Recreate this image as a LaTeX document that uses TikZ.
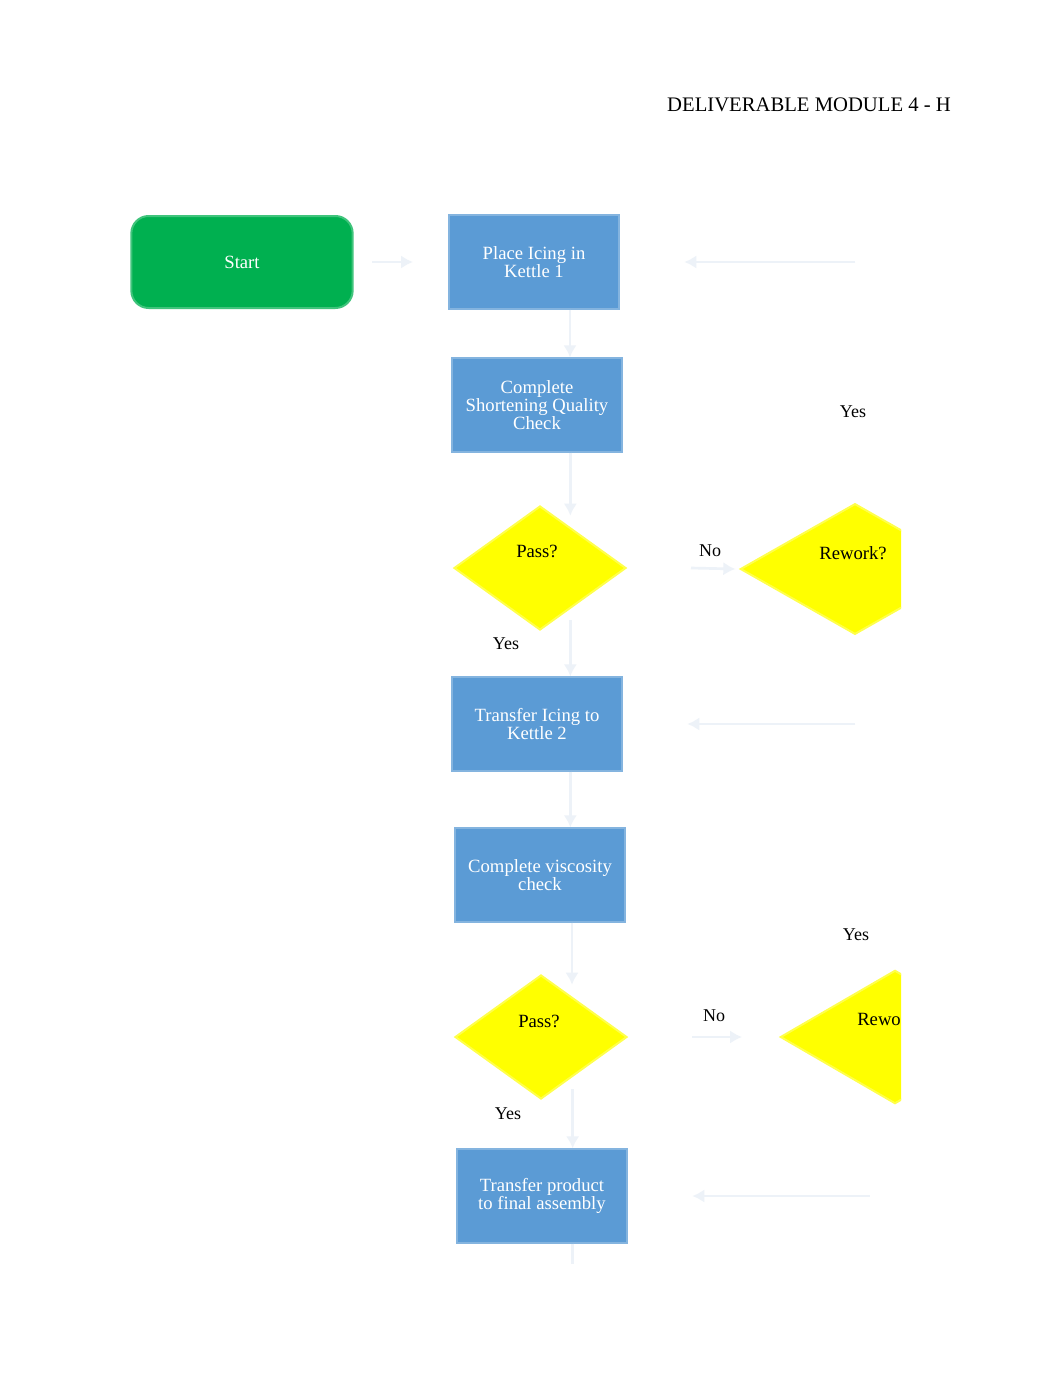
\documentclass[tikz,border=0pt]{standalone}
\usepackage{fontspec}
\setmainfont{Liberation Serif}
\usetikzlibrary{shapes.geometric,arrows.meta}
\definecolor{startgreen}{HTML}{00B050}
\definecolor{boxblue}{HTML}{5B9BD5}
\definecolor{askyellow}{HTML}{FFFF00}
\definecolor{linkgray}{HTML}{EDF2F8}
\tikzset{
    startbox/.style={rectangle, rounded corners=13pt, fill=startgreen, draw=startgreen!75!white, line width=1.5pt,
        minimum width=166pt, minimum height=69pt, text=white, font=\fontsize{14}{13.5}\selectfont},
    processbox/.style={rectangle, fill=boxblue, draw=boxblue!75!white, line width=1.5pt,
        minimum width=128pt, minimum height=70pt, text=white, align=center, font=\fontsize{14}{13.5}\selectfont},
    askbox/.style={diamond, fill=askyellow, draw=askyellow!70!white, line width=1.5pt, inner sep=0pt,
        minimum width=129pt, minimum height=93pt},
    asktext/.style={font=\fontsize{14}{13.5}\selectfont, inner sep=0pt},
    branchtext/.style={font=\fontsize{13.5}{13.5}\selectfont, inner sep=0pt},
    link/.style={draw=linkgray, line width=2pt, -{Latex[length=9pt,width=10pt]}}
}
\begin{document}
\begin{tikzpicture}[x=0.75pt,y=-0.75pt]
                \useasboundingbox[fill=white] (0,0) rectangle (1062,1377);

                \node[font=\fontsize{15.5}{15.5}\selectfont, inner sep=0pt] (title) at (809,105) {DELIVERABLE MODULE 4 - H};

                \node[startbox] (start) at (242,262) {Start};
                \node[processbox] (place) at (534,262) {Place Icing in\\Kettle 1};
                \node[processbox] (shorten) at (537,405) {Complete\\Shortening Quality\\Check};
                \node[askbox] (pass1) at (540,568) {};
                \node[asktext] (pass1t) at (537,551) {Pass?};
                \node[processbox] (kettle2) at (537,724) {Transfer Icing to\\Kettle 2};
                \node[processbox] (viscosity) at (540,875) {Complete viscosity\\check};
                \node[askbox] (pass2) at (541,1037) {};
                \node[asktext] (pass2t) at (539,1021) {Pass?};
                \node[processbox] (assembly) at (542,1196) {Transfer product\\to final assembly};

                \begin{scope}
                \clip (0,0) rectangle (901,1377);
                \node[askbox, minimum width=172pt, minimum height=98pt] (rework1) at (855,569) {};
                \node[askbox, minimum width=172pt, minimum height=100pt] (rework2) at (895,1037) {};
                \end{scope}
                \node[asktext] (rework1t) at (853,553) {Rework?};
                \node[asktext, anchor=west] (rework2t) at (857,1019) {Rewo};

                \node[branchtext] (no1) at (710,551) {No};
                \node[branchtext] (yes1) at (853,412) {Yes};
                \node[branchtext] (yes2) at (506,644) {Yes};
                \node[branchtext] (no2) at (714,1016) {No};
                \node[branchtext] (yes3) at (856,935) {Yes};
                \node[branchtext] (yes4) at (508,1114) {Yes};

                \draw[link] ([xshift=14pt]start.east) -- ([xshift=-26pt]place.west);
                \draw[link] ([xshift=27pt]place.south) -- ([xshift=27pt]place.south |- shorten.north);
                \draw[link] ([xshift=25pt]shorten.south) -- ([xshift=25pt,yshift=-8pt]shorten.south |- pass1.north);
                \draw[link] ([xshift=25pt,yshift=8pt]kettle2.north |- pass1.south) -- ([xshift=25pt]kettle2.north);
                \draw[link] ([xshift=25pt]kettle2.south) -- ([xshift=25pt]kettle2.south |- viscosity.north);
                \draw[link] ([xshift=24pt]viscosity.south) -- ([xshift=24pt,yshift=-8pt]viscosity.south |- pass2.north);
                \draw[link] ([xshift=23pt,yshift=8pt]assembly.north |- pass2.south) -- ([xshift=23pt]assembly.north);
                \draw[link, -] ([xshift=23pt]assembly.south) -- ++(0,20);
                \draw[link] ([xshift=48pt]pass1.east) -- ([xshift=-3pt]rework1.west);
                \draw[link] ([xshift=48pt]pass2.east) -- ([xshift=-28pt]rework2.west);
                \draw[link] (rework1.north |- place.east) -- ([xshift=48pt]place.east);
                \draw[link] (rework1.north |- kettle2.east) -- ([xshift=48pt]kettle2.east);
                \draw[link] ([xshift=11pt]rework1.north |- assembly.east) -- ([xshift=48pt]assembly.east);
            \end{tikzpicture}
\end{document}
